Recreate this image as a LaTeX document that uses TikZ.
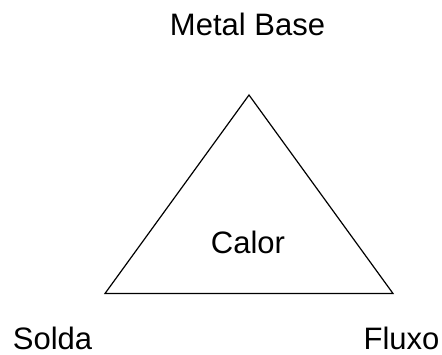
\documentclass[tikz,border=0pt]{standalone}
\usepackage{fontspec}
\setmainfont{Liberation Sans}
\begin{document}
\begin{tikzpicture}[x=1pt,y=-1pt,
  lbl/.style={anchor=base,inner sep=0pt,font=\fontsize{31}{36}\selectfont},
  edge/.style={draw=black,line width=1.2pt,line join=miter}]
\useasboundingbox (0,0) rectangle (442,355);
\coordinate (top) at (249,95);
\coordinate (bl) at (105,293.5);
\coordinate (br) at (393,293.5);
\draw[edge] (top) -- (bl) -- (br) -- cycle;
\node[lbl] (metal) at (247.5,36) {Metal Base};
\node[lbl] (calor) at (248,254) {Calor};
\node[lbl] (solda) at (52.5,349.3) {Solda};
\node[lbl] (fluxo) at (401.5,349.5) {Fluxo};
\end{tikzpicture}
\end{document}
